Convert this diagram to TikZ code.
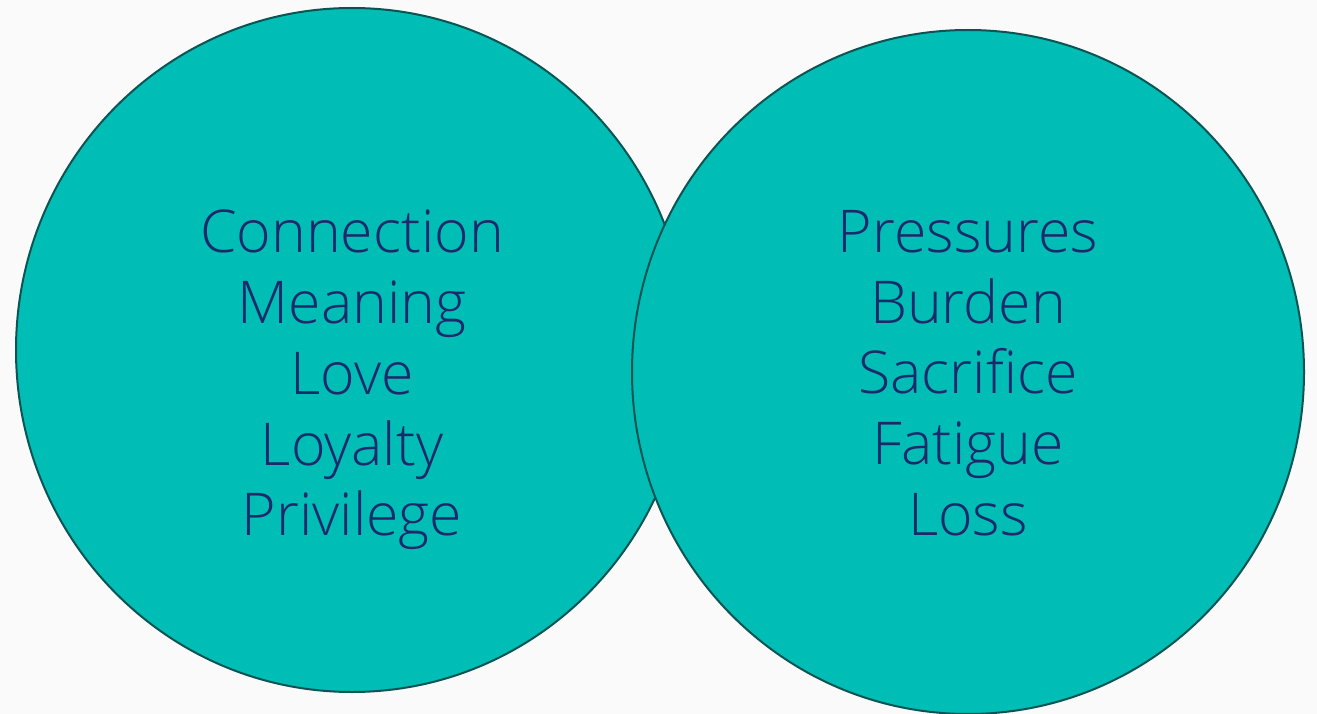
\documentclass[tikz,border=0pt]{standalone}
\usepackage{fontspec}
\setmainfont{Open Sans}[UprightFont=* Light]
\usetikzlibrary{shapes.geometric}
\definecolor{bgGray}{HTML}{FAFAFA}
\definecolor{ringFill}{HTML}{00BDB5}
\definecolor{ringEdge}{HTML}{0A5554}
\definecolor{wordBlue}{HTML}{1C2A6C}

\begin{document}
\begin{tikzpicture}[x=1pt,y=-1pt,
  ring/.style={ellipse, draw=ringEdge, fill=ringFill, line width=2pt,
    minimum width=672pt, minimum height=684pt, inner sep=0pt},
  words/.style={align=center, text=wordBlue, inner sep=0pt, anchor=north,
    font=\fontsize{59}{70.7}\selectfont}]

% page and background
\fill[bgGray] (0,0) rectangle (1317,714);
\useasboundingbox (0,0) rectangle (1317,714);

% the two circles
\node[ring] (joyRing) at (352,350) {};
\node[ring] (loadRing) at (968,372) {};

% the words in each circle
\node[words] (joyWords) at (352,210) {Connection\\Meaning\\Love\\Loyalty\\Privilege};
\node[words] (loadWords) at (968,210) {Pressures\\Burden\\Sacrifice\\Fatigue\\Loss};

\end{tikzpicture}
\end{document}
